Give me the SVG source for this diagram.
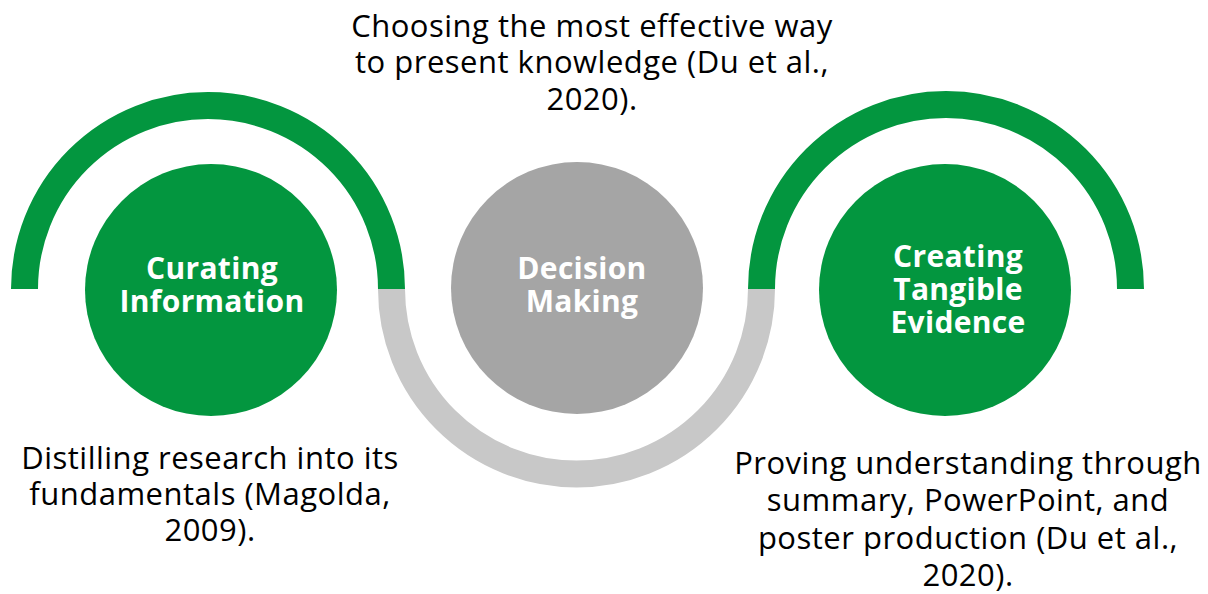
<svg xmlns="http://www.w3.org/2000/svg" width="1208" height="594" viewBox="0 0 1208 594">
<style>
.arc-g{fill:none;stroke:#03963f;stroke-width:27}
.arc-y{fill:none;stroke:#c8c8c8;stroke-width:27}
.lbl{font-family:"Open Sans","Liberation Sans",sans-serif;font-weight:bold;font-size:30px;letter-spacing:0.3px;fill:#ffffff;text-anchor:middle}
.desc{font-family:"Open Sans","Liberation Sans",sans-serif;font-size:31px;letter-spacing:0.5px;fill:#000000;text-anchor:middle}
</style>
<rect width="1208" height="594" fill="#ffffff"/>
<g id="connectors">
<path class="arc-g" d="M 24.5 289 A 183.5 183.5 0 0 1 391.5 289"/>
<path class="arc-y" d="M 391.5 289 A 183.5 183.5 0 0 0 761.5 289"/>
<path class="arc-g" d="M 761.5 289 A 183.5 183.5 0 0 1 1130.5 289"/>
</g>
<g id="node-curating">
<circle cx="211" cy="290" r="126" fill="#03963f"/>
<text class="lbl" x="212" y="279">Curating</text>
<text class="lbl" x="212" y="312">Information</text>
</g>
<g id="node-decision">
<circle cx="577" cy="288" r="126" fill="#a5a5a5"/>
<text class="lbl" x="582" y="279">Decision</text>
<text class="lbl" x="582" y="312">Making</text>
</g>
<g id="node-creating">
<circle cx="945" cy="290" r="126" fill="#03963f"/>
<text class="lbl" x="958" y="267">Creating</text>
<text class="lbl" x="958" y="300">Tangible</text>
<text class="lbl" x="958" y="333">Evidence</text>
</g>
<g id="desc-decision">
<text class="desc" x="592" y="37">Choosing the most effective way</text>
<text class="desc" x="592" y="73">to present knowledge (Du et al.,</text>
<text class="desc" x="592" y="110">2020).</text>
</g>
<g id="desc-curating">
<text class="desc" x="210" y="469">Distilling research into its</text>
<text class="desc" x="210" y="505">fundamentals (Magolda,</text>
<text class="desc" x="210" y="541">2009).</text>
</g>
<g id="desc-creating">
<text class="desc" x="968" y="474">Proving understanding through</text>
<text class="desc" x="968" y="511">summary, PowerPoint, and</text>
<text class="desc" x="968" y="549">poster production (Du et al.,</text>
<text class="desc" x="968" y="586">2020).</text>
</g>
</svg>
